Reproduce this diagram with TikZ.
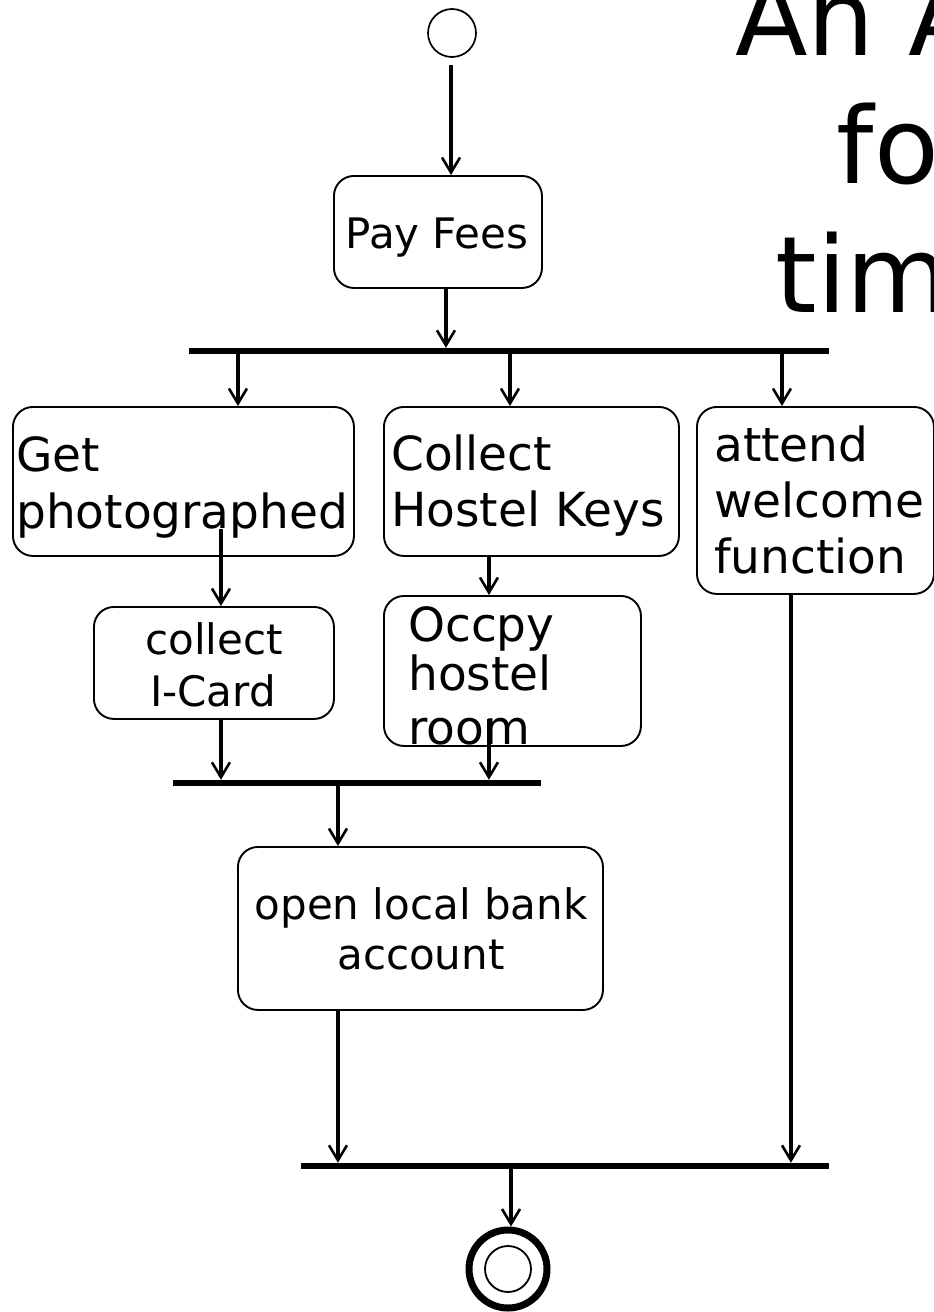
\documentclass[tikz,border=0pt]{standalone}
\usepackage{fontspec}
\setmainfont{DejaVu Sans}
\usetikzlibrary{arrows.meta,calc}
\begin{document}
\begin{tikzpicture}[x=1pt,y=-1pt,
  act/.style={draw, line width=1.9pt, rounded corners=20pt, inner sep=0pt, anchor=north west},
  bar/.style={fill=black, draw=none, inner sep=0pt, minimum height=6pt, anchor=west},
  flow/.style={line width=3.6pt, -{Straight Barb[length=15pt,width=18pt,line width=2.6pt]}},
  txt/.style={inner sep=0pt, anchor=base west},
  ctxt/.style={inner sep=0pt, anchor=base},
  big/.style={font=\fontsize{47}{56}\selectfont},
  small/.style={font=\fontsize{42}{50}\selectfont},
  headline/.style={font=\fontsize{106}{128}\selectfont}]
\useasboundingbox (0,0) rectangle (934,1312);
\clip (0,0) rectangle (934,1312);

% heading
\node[txt, headline] (h1) at (735,55) {An A};
\node[txt, headline] (h2) at (836.6,183) {fo};
\node[txt, headline] (h3) at (775.7,312) {tim};

% initial and final states
\node[circle, draw, line width=1.7pt, minimum size=48pt, inner sep=0pt] (start) at (452,33) {};
\node[circle, draw, line width=7pt, minimum size=78pt, inner sep=0pt] (stop) at (508,1269) {};
\node[circle, draw, line width=1.8pt, minimum size=46pt, inner sep=0pt] (stopin) at (stop) {};

% activities
\node[act, minimum width=208pt, minimum height=112pt] (pay) at (333,175) {};
\node[act, minimum width=341pt, minimum height=149pt] (gp) at (12,406) {};
\node[act, minimum width=295pt, minimum height=149pt] (chk) at (383,406) {};
\node[act, minimum width=237pt, minimum height=187pt] (att) at (696,406) {};
\node[act, minimum width=240pt, minimum height=112pt] (icard) at (93,606) {};
\node[act, minimum width=257pt, minimum height=150pt] (occ) at (383,595) {};
\node[act, minimum width=365pt, minimum height=163pt] (bank) at (237,846) {};

% fork / join bars
\node[bar, minimum width=640pt] (fork1) at (189,351) {};
\node[bar, minimum width=368pt] (join1) at (173,783) {};
\node[bar, minimum width=528pt] (join2) at (301,1166) {};

% activity labels
\node[ctxt, small] (payt) at (437,248) {Pay Fees};
\node[txt, big] (gpt1) at (16,471.7) {Get};
\node[txt, big] (gpt2) at (16,528) {photographed};
\node[txt, big] (chkt1) at (391,470) {Collect};
\node[txt, big] (chkt2) at (391,526.7) {Hostel Keys};
\node[txt, big] (attt1) at (714,461) {attend};
\node[txt, big] (attt2) at (714,517) {welcome};
\node[txt, big] (attt3) at (714,573) {function};
\node[ctxt, small] (icardt1) at (214,654) {collect};
\node[ctxt, small] (icardt2) at (213,706) {I-Card};
\node[txt, big] (occt1) at (408,641) {Occpy};
\node[txt, big] (occt2) at (408,690) {hostel};
\node[txt, big] (occt3) at (408,744) {room};
\node[ctxt, small] (bankt1) at (421,919) {open local bank};
\node[ctxt, small] (bankt2) at (421,969) {account};

% control flows
\draw[flow] ($(start.south)+(-1,7)$) -- ($(start.south |- pay.north)+(-1,0)$);
\draw[flow] ($(pay.south)+(8,0)$) -- ($(pay.south |- fork1.north)+(8,0)$);
\draw[flow] ($(gp.north |- fork1.south)+(54.5,0)$) -- ($(gp.north)+(54.5,0)$);
\draw[flow] ($(chk.north |- fork1.south)+(-21.5,0)$) -- ($(chk.north)+(-21.5,0)$);
\draw[flow] ($(att.north |- fork1.south)+(-33.5,0)$) -- ($(att.north)+(-33.5,0)$);
\draw[flow] ($(icard.north |- gp.south)+(7,-28)$) -- ($(icard.north)+(7,0)$);
\draw[flow] ($(icard.south)+(7,0)$) -- ($(icard.south |- join1.north)+(7,0)$);
\draw[flow] ($(chk.south)+(-42.5,0)$) -- ($(chk.south |- occ.north)+(-42.5,0)$);
\draw[flow] ($(occ.south)+(-23.5,-28)$) -- ($(occ.south |- join1.north)+(-23.5,0)$);
\draw[flow] ($(bank.north |- join1.south)+(-82.5,0)$) -- ($(bank.north)+(-82.5,0)$);
\draw[flow] ($(bank.south)+(-82.5,0)$) -- ($(bank.south |- join2.north)+(-82.5,0)$);
\draw[flow] ($(att.south)+(-24.5,0)$) -- ($(att.south |- join2.north)+(-24.5,0)$);
\draw[flow] ($(stop.north |- join2.south)+(3,0)$) -- ($(stop.north)+(3,0)$);
\end{tikzpicture}
\end{document}
